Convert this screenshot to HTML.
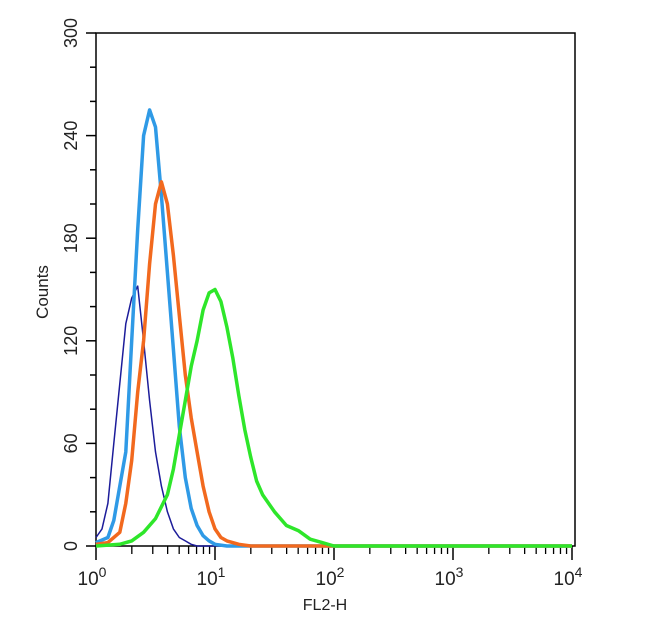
<!DOCTYPE html>
<html><head><meta charset="utf-8"><style>
body{margin:0;background:#fff;}
svg text{font-family:"Liberation Sans",Arial,sans-serif;fill:#222;}
</style></head><body>
<svg id="chart" width="650" height="635" viewBox="0 0 650 635" xmlns="http://www.w3.org/2000/svg">
<rect x="96" y="33" width="479" height="513" fill="#fff" stroke="#000" stroke-width="1.5"/>
<g id="axes"></g>
<g id="series"></g>
<text x="325" y="610" font-size="16" text-anchor="middle">FL2-H</text>
<text transform="translate(48,292) rotate(-90)" font-size="17" text-anchor="middle">Counts</text>
</svg>
<script>
const yTicks=[0,60,120,180,240,300];
const xDecades=[0,1,2,3,4];
const navyX=[0,0.05,0.1,0.15,0.2,0.25,0.3,0.35,0.4,0.45,0.5,0.55,0.6,0.65,0.7,0.75,0.8,0.85,4];
const navyY=[5,10,25,60,95,130,145,152,120,85,55,35,20,10,5,3,1,0,0];
const blueX=[0,0.1,0.15,0.2,0.25,0.3,0.35,0.4,0.45,0.5,0.55,0.6,0.65,0.7,0.75,0.8,0.85,0.9,0.95,1.0,1.1,4];
const blueY=[2,5,15,35,55,120,185,240,255,245,205,160,115,70,40,22,12,6,3,1,0,0];
const orangeX=[0,0.1,0.2,0.25,0.3,0.35,0.4,0.45,0.5,0.55,0.6,0.65,0.7,0.75,0.8,0.85,0.9,0.95,1.0,1.05,1.1,1.2,1.3,4];
const orangeY=[1,2,8,25,50,90,120,165,200,213,200,170,135,100,75,55,35,20,10,5,3,1,0,0];
const greenX=[0,0.2,0.3,0.4,0.5,0.6,0.65,0.7,0.75,0.8,0.85,0.9,0.95,1.0,1.05,1.1,1.15,1.2,1.25,1.3,1.35,1.4,1.5,1.6,1.7,1.8,1.9,2.0,4];
const greenY=[0,1,3,8,16,30,45,65,85,105,120,138,148,150,143,128,110,88,68,52,38,30,20,12,9,4,2,0,0];

const X0=96,X1=572,Y0=546,Y1=33;
const sx=l=>X0+(X1-X0)*l/4;
const sy=v=>Y0-(Y0-Y1)*v/300;
const NS="http://www.w3.org/2000/svg";
const axes=document.getElementById('axes');
function mk(tag,attrs,parent){const e=document.createElementNS(NS,tag);for(const k in attrs)e.setAttribute(k,attrs[k]);parent.appendChild(e);return e;}
for(let v=0;v<=300;v+=20){
  const major=yTicks.includes(v);
  const t=mk('line',{x1:X0,x2:X0-(major?10:6),y1:sy(v),y2:sy(v),stroke:'#000','stroke-width':1.5},axes);
  
  
}
yTicks.forEach(v=>{
  const t=mk('text',{transform:`translate(77,${sy(v)}) rotate(-90)`,'font-size':18,'text-anchor':'middle'},axes);
  t.textContent=v;
  
  
});
xDecades.forEach(d=>{
  const t=mk('line',{x1:sx(d),x2:sx(d),y1:Y0,y2:Y0+14,stroke:'#000','stroke-width':1.5},axes);
  
  
  if(d<4){for(let m=2;m<10;m++){
    const mt=mk('line',{x1:sx(d+Math.log10(m)),x2:sx(d+Math.log10(m)),y1:Y0,y2:Y0+8,stroke:'#000','stroke-width':1.3},axes);
    
    
  }}
  const tx=mk('text',{x:sx(d)-4,y:585,'font-size':19,'text-anchor':'middle'},axes);
  tx.innerHTML='10<tspan dy="-8" font-size="14">'+d+'</tspan>';
  
  
});
const ser=document.getElementById('series');
function draw(xs,ys,color,w,name){
  let d='';
  for(let i=0;i<xs.length;i++){d+=(i?'L':'M')+sx(xs[i]).toFixed(1)+' '+sy(ys[i]).toFixed(1);}
  const p=mk('path',{d:d,fill:'none',stroke:color,'stroke-width':w,'stroke-linejoin':'round'},ser);
  
  
}
draw(navyX,navyY,'#1c1c9a',1.5,'histogram-navy');
draw(blueX,blueY,'#2f9ae6',3.5,'histogram-lightblue');
draw(orangeX,orangeY,'#f2691e',3.5,'histogram-orange');
draw(greenX,greenY,'#2ee62a',3.5,'histogram-green');
</script>
</body></html>
